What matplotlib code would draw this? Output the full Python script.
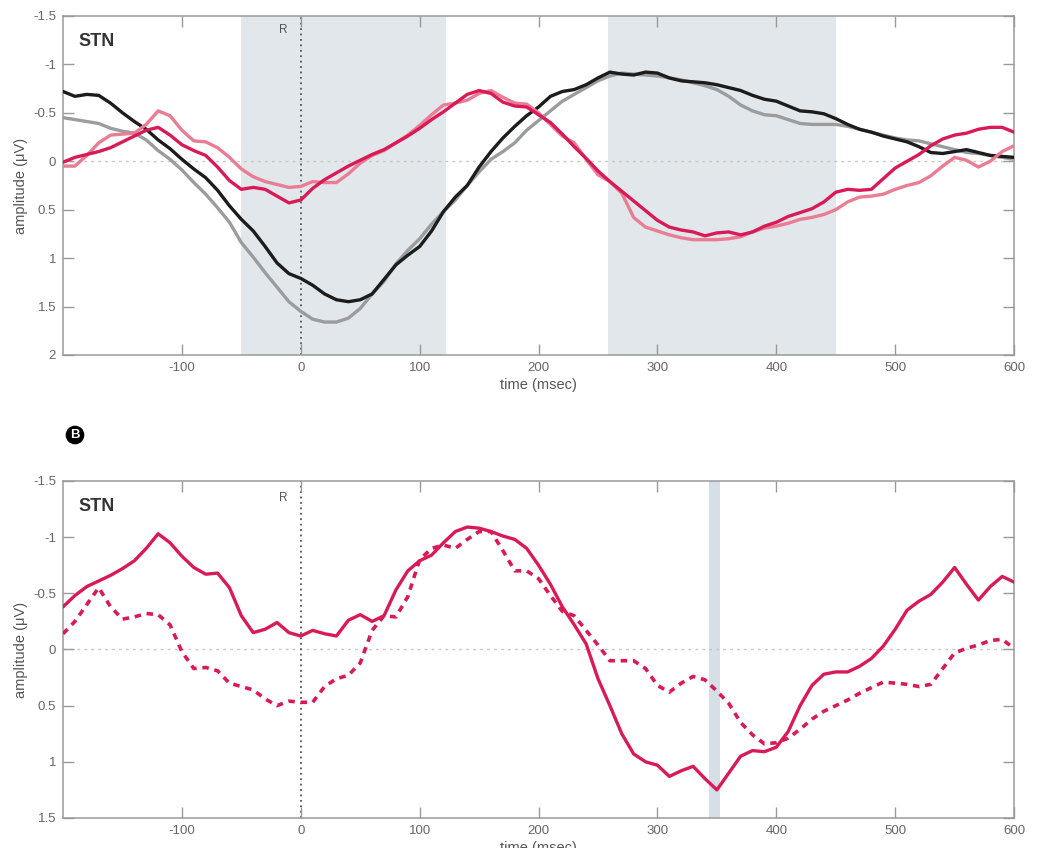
import matplotlib
matplotlib.use("Agg")
import matplotlib.pyplot as plt

# ── Configuration ──────────────────────────────────────────────────────────────
DPI = 100
FIG_SIZE = (10.42, 8.48)

BLACK_COLOR = "#1c1c1c"
GRAY_COLOR = "#9a9c9e"
RED_COLOR = "#d81b57"
PINK_COLOR = "#ea7d93"
SPAN_COLOR = "#e2e7eb"
FRAME_COLOR = "#9a9a9a"
TEXT_COLOR = "#555555"

plt.rcParams["font.family"] = ["Liberation Sans", "DejaVu Sans"]
plt.rcParams["lines.solid_joinstyle"] = "round"
plt.rcParams["lines.solid_capstyle"] = "round"
# ──────────────────────────────────────────────────────────────────────────────

# time axis (msec), sampled every 10 ms
time_ms = list(range(-200, 601, 10))

# panel A: four averaged traces (µV)
black_a = [
    -0.72, -0.67, -0.69, -0.68, -0.60, -0.50, -0.41, -0.33, -0.22, -0.13,
    -0.02, 0.08, 0.17, 0.30, 0.46, 0.60, 0.72, 0.88, 1.05, 1.16,
    1.21, 1.28, 1.37, 1.43, 1.45, 1.43, 1.37, 1.22, 1.07, 0.97,
    0.88, 0.72, 0.52, 0.37, 0.25, 0.06, -0.10, -0.24, -0.36, -0.47,
    -0.56, -0.67, -0.72, -0.74, -0.79, -0.86, -0.92, -0.90, -0.89, -0.92,
    -0.91, -0.86, -0.83, -0.82, -0.81, -0.79, -0.76, -0.73, -0.68, -0.64,
    -0.62, -0.57, -0.52, -0.51, -0.49, -0.44, -0.38, -0.33, -0.30, -0.26,
    -0.23, -0.20, -0.15, -0.09, -0.08, -0.10, -0.12, -0.09, -0.06, -0.05,
    -0.04,
]
gray_a = [
    -0.45, -0.43, -0.41, -0.39, -0.34, -0.31, -0.29, -0.22, -0.11, -0.02,
    0.09, 0.22, 0.34, 0.48, 0.63, 0.84, 0.99, 1.15, 1.30, 1.45,
    1.55, 1.63, 1.66, 1.66, 1.62, 1.52, 1.37, 1.24, 1.06, 0.92,
    0.80, 0.65, 0.52, 0.40, 0.25, 0.11, -0.02, -0.10, -0.19, -0.32,
    -0.42, -0.52, -0.62, -0.69, -0.76, -0.83, -0.88, -0.91, -0.90, -0.89,
    -0.88, -0.86, -0.84, -0.81, -0.78, -0.74, -0.67, -0.58, -0.52, -0.48,
    -0.47, -0.43, -0.39, -0.38, -0.38, -0.38, -0.36, -0.33, -0.30, -0.27,
    -0.24, -0.22, -0.21, -0.18, -0.15, -0.12, -0.09, -0.08, -0.06, -0.04,
    -0.02,
]
red_a = [
    0.01, -0.04, -0.07, -0.10, -0.14, -0.20, -0.26, -0.32, -0.35, -0.27,
    -0.17, -0.11, -0.06, 0.06, 0.20, 0.29, 0.27, 0.29, 0.36, 0.43,
    0.40, 0.28, 0.19, 0.12, 0.05, -0.01, -0.07, -0.12, -0.19, -0.26,
    -0.34, -0.43, -0.51, -0.60, -0.69, -0.73, -0.70, -0.61, -0.57, -0.56,
    -0.48, -0.40, -0.28, -0.15, -0.03, 0.10, 0.21, 0.31, 0.41, 0.51,
    0.61, 0.68, 0.71, 0.73, 0.77, 0.74, 0.73, 0.76, 0.73, 0.67,
    0.63, 0.57, 0.53, 0.49, 0.42, 0.32, 0.29, 0.30, 0.29, 0.18,
    0.07, 0.00, -0.07, -0.16, -0.23, -0.27, -0.29, -0.33, -0.35, -0.35,
    -0.30,
]
pink_a = [
    0.05, 0.05, -0.06, -0.19, -0.27, -0.28, -0.29, -0.38, -0.52, -0.47,
    -0.32, -0.21, -0.20, -0.14, -0.04, 0.08, 0.16, 0.21, 0.24, 0.27,
    0.26, 0.21, 0.22, 0.22, 0.13, 0.02, -0.06, -0.11, -0.19, -0.27,
    -0.37, -0.48, -0.58, -0.60, -0.63, -0.70, -0.73, -0.66, -0.60, -0.59,
    -0.50, -0.38, -0.26, -0.19, -0.02, 0.14, 0.21, 0.33, 0.58, 0.68,
    0.72, 0.76, 0.79, 0.81, 0.81, 0.81, 0.80, 0.78, 0.73, 0.69,
    0.67, 0.64, 0.60, 0.58, 0.55, 0.50, 0.42, 0.37, 0.36, 0.34,
    0.29, 0.25, 0.22, 0.15, 0.05, -0.04, -0.01, 0.06, 0.00, -0.10,
    -0.16,
]

# panel B: solid and dashed traces (µV)
solid_b = [
    -0.38, -0.48, -0.56, -0.61, -0.66, -0.72, -0.79, -0.90, -1.03, -0.95,
    -0.83, -0.73, -0.67, -0.68, -0.55, -0.30, -0.15, -0.18, -0.24, -0.15,
    -0.12, -0.17, -0.14, -0.12, -0.26, -0.31, -0.25, -0.30, -0.53, -0.70,
    -0.79, -0.84, -0.95, -1.05, -1.09, -1.08, -1.05, -1.01, -0.98, -0.90,
    -0.75, -0.58, -0.38, -0.22, -0.05, 0.26, 0.50, 0.75, 0.93, 1.00,
    1.03, 1.13, 1.08, 1.04, 1.15, 1.25, 1.10, 0.95, 0.90, 0.91,
    0.87, 0.73, 0.50, 0.32, 0.22, 0.20, 0.20, 0.15, 0.08, -0.03,
    -0.18, -0.35, -0.43, -0.49, -0.60, -0.73, -0.58, -0.44, -0.56, -0.65,
    -0.60,
]
dashed_b = [
    -0.14, -0.25, -0.40, -0.55, -0.38, -0.27, -0.29, -0.32, -0.31, -0.22,
    0.02, 0.17, 0.16, 0.19, 0.30, 0.33, 0.36, 0.44, 0.50, 0.46,
    0.47, 0.47, 0.33, 0.26, 0.23, 0.12, -0.17, -0.30, -0.29, -0.47,
    -0.80, -0.90, -0.93, -0.90, -0.98, -1.05, -1.05, -0.88, -0.70, -0.70,
    -0.63, -0.48, -0.34, -0.30, -0.17, -0.04, 0.10, 0.10, 0.10, 0.17,
    0.32, 0.38, 0.30, 0.24, 0.27, 0.37, 0.48, 0.65, 0.76, 0.84,
    0.83, 0.79, 0.71, 0.62, 0.55, 0.50, 0.45, 0.39, 0.34, 0.29,
    0.30, 0.31, 0.33, 0.31, 0.17, 0.03, -0.01, -0.04, -0.08, -0.09,
    -0.01,
]

# shaded windows (msec)
spans_a = [(-50, 122), (258, 450)]
spans_b = [(343, 353)]

x_ticks = [-100, 0, 100, 200, 300, 400, 500, 600]
y_ticks_a = [-1.5, -1, -0.5, 0, 0.5, 1, 1.5, 2]
y_ticks_b = [-1.5, -1, -0.5, 0, 0.5, 1, 1.5]


def fmt(v):
    return f"{v:g}"


def style_axes(ax, yticks):
    ax.set_xlim(-200, 600)
    ax.set_ylim(yticks[-1], yticks[0])   # inverted: negative up
    ax.set_xticks(x_ticks)
    ax.set_xticklabels([fmt(v) for v in x_ticks])
    ax.set_yticks(yticks)
    ax.set_yticklabels([fmt(v) for v in yticks])
    ax.tick_params(direction="in", length=8, width=1, color=FRAME_COLOR,
                   labelcolor="#666666", labelsize=9.5,
                   top=True, right=True, pad=5)
    for sp in ax.spines.values():
        sp.set_color(FRAME_COLOR)
        sp.set_linewidth(1.1)
    ax.axhline(0, color="#c8c8c0", lw=1, ls=(0, (2, 3)), zorder=1)
    ax.axvline(0, color="#555555", lw=1.3, ls=(0, (1, 2)), zorder=1)
    ax.set_ylabel("amplitude (μV)", fontsize=10.5, color=TEXT_COLOR, labelpad=4)
    ax.text(0.016, 0.925, "STN", transform=ax.transAxes, fontsize=13,
            fontweight="bold", color="#333333", va="center", ha="left")
    ax.text(-15, yticks[0] + 0.15, "R", fontsize=8.5, color=TEXT_COLOR,
            ha="center", va="center")


fig = plt.figure(figsize=FIG_SIZE, dpi=DPI)

# ── Panel A ──
ax1 = fig.add_axes([0.0605, 0.5814, 0.9127, 0.3998])
for lo, hi in spans_a:
    ax1.axvspan(lo, hi, color=SPAN_COLOR, lw=0, zorder=0)
style_axes(ax1, y_ticks_a)
ax1.plot(time_ms, gray_a, color=GRAY_COLOR, lw=2.4, zorder=3)
ax1.plot(time_ms, black_a, color=BLACK_COLOR, lw=2.4, zorder=4)
ax1.plot(time_ms, pink_a, color=PINK_COLOR, lw=2.4, zorder=5)
ax1.plot(time_ms, red_a, color=RED_COLOR, lw=2.4, zorder=6)
ax1.set_xlabel("time (msec)", fontsize=10.5, color=TEXT_COLOR, labelpad=3)

# ── Panel B ──
ax2 = fig.add_axes([0.0605, 0.0354, 0.9127, 0.3974])
for lo, hi in spans_b:
    ax2.axvspan(lo, hi, color="#d6dee6", lw=0, zorder=0)
style_axes(ax2, y_ticks_b)
ax2.plot(time_ms, solid_b, color=RED_COLOR, lw=2.4, zorder=5)
ax2.plot(time_ms, dashed_b, color=RED_COLOR, lw=2.6, ls=(0, (1.8, 1.6)), zorder=4)
# x label sits partly below the figure edge, as in the original
ax2.set_xlabel("time (msec)", fontsize=10.5, color=TEXT_COLOR, labelpad=3)

fig.text(75 / 1042, 1 - 435 / 848, "B", color="white", fontsize=9.5,
         fontweight="bold", ha="center", va="center",
         bbox=dict(boxstyle="circle,pad=0.2", fc="black", ec="black"))

fig.savefig("out.png", dpi=DPI)
plt.close(fig)
